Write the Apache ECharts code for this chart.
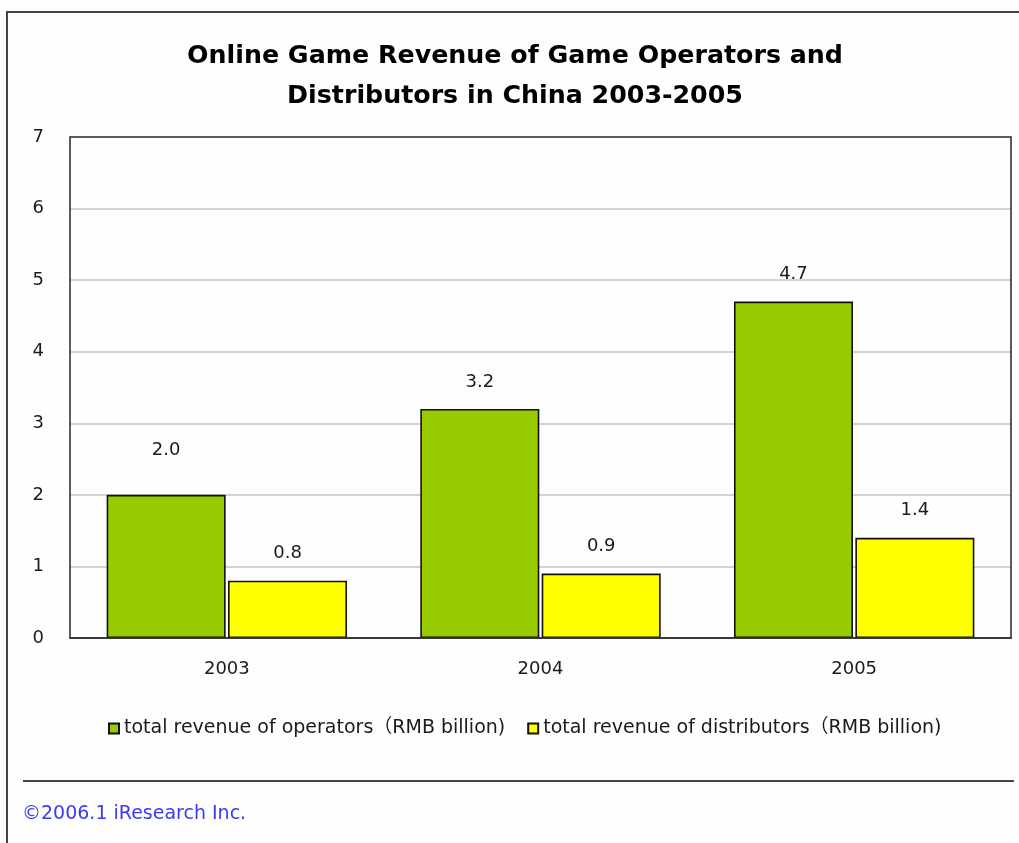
<!DOCTYPE html>
<html>
<head>
<meta charset="utf-8">
<title>Online Game Revenue of Game Operators and Distributors in China 2003-2005</title>
<script src="https://cdn.jsdelivr.net/npm/echarts@6/dist/echarts.min.js"></script>
<style>
  html, body { margin: 0; padding: 0; background: #fdfefd; }
  #chart { width: 1019px; height: 843px; }
</style>
</head>
<body>
<div id="chart"></div>
<script>
// Revenue data, RMB billion
const years = ['2003', '2004', '2005'];
const operatorRevenue = [2.0, 3.2, 4.7];
const distributorRevenue = [0.8, 0.9, 1.4];
const seriesNames = [
  'total revenue of operators（RMB billion)',
  'total revenue of distributors（RMB billion)'
];
const yTicks = [0, 1, 2, 3, 4, 5, 6, 7];

const FONT = '"DejaVu Sans", "Noto Sans CJK SC", sans-serif';
const TEXT = '#1a1a1a';

// plot box in pixels
const GRID = { left: 70, right: 8, top: 137, bottom: 205 };
const W = 1019, H = 843;

const chart = echarts.init(document.getElementById('chart'), null, { renderer: 'canvas' });

const valueLabel = {
  show: true,
  position: 'top',
  distance: 18,
  color: TEXT,
  fontFamily: FONT,
  fontSize: 18,
  formatter: p => Number(p.value).toFixed(1)
};

chart.setOption({
  backgroundColor: '#fdfefd',
  animation: false,
  title: {
    text: 'Online Game Revenue of Game Operators and\nDistributors in China 2003-2005',
    left: 515,
    textAlign: 'center',
    top: 36,
    padding: 0,
    textStyle: {
      fontFamily: FONT,
      fontWeight: 'bold',
      fontSize: 25.3,
      lineHeight: 40,
      color: '#000'
    }
  },
  legend: {
    data: seriesNames,
    left: 103,
    top: 714,
    itemWidth: 10,
    itemHeight: 10,
    itemGap: 22,
    icon: 'rect',
    textStyle: { fontFamily: FONT, fontSize: 19, color: TEXT }
  },
  grid: {
    left: GRID.left,
    right: GRID.right,
    top: GRID.top,
    bottom: GRID.bottom
  },
  xAxis: {
    type: 'category',
    data: years,
    axisLine: { show: true, lineStyle: { color: '#222', width: 1.5 } },
    axisTick: { show: false },
    axisLabel: { color: TEXT, fontFamily: FONT, fontSize: 18, margin: 22 }
  },
  yAxis: {
    type: 'value',
    min: yTicks[0],
    max: yTicks[yTicks.length - 1],
    interval: 1,
    axisLine: { show: false },
    axisTick: { show: false },
    axisLabel: { color: TEXT, fontFamily: FONT, fontSize: 18, margin: 26 },
    splitLine: { lineStyle: { color: '#c4c4c4', width: 1.5 } }
  },
  series: [
    {
      name: seriesNames[0],
      type: 'bar',
      barWidth: 119,
      barGap: '2%',
      itemStyle: { color: '#99cc00', borderColor: '#111', borderWidth: 1.6 },
      label: valueLabel,
      // the first label sits higher above its bar
      data: operatorRevenue.map((v, i) => i === 0 ? { value: v, label: { distance: 36 } } : v)
    },
    {
      name: seriesNames[1],
      type: 'bar',
      barWidth: 119,
      itemStyle: { color: '#ffff00', borderColor: '#111', borderWidth: 1.6 },
      label: valueLabel,
      data: distributorRevenue
    }
  ],
  graphic: [
    // dark frame round the plot area, above the grid lines
    {
      type: 'rect',
      silent: true,
      z: 100,
      shape: {
        x: GRID.left,
        y: GRID.top,
        width: W - GRID.left - GRID.right,
        height: H - GRID.top - GRID.bottom
      },
      style: { stroke: '#333', lineWidth: 1.6, fill: null }
    },
    // outer frame (top and left edges)
    {
      type: 'polyline',
      silent: true,
      shape: { points: [[7, 843], [7, 12], [1019, 12]] },
      style: { stroke: '#444', lineWidth: 2, fill: null }
    },
    // rule above the source note
    {
      type: 'line',
      silent: true,
      shape: { x1: 23, y1: 781, x2: 1014, y2: 781 },
      style: { stroke: '#444', lineWidth: 2 }
    },
    {
      type: 'text',
      silent: true,
      left: 22,
      top: 805,
      style: {
        text: '©2006.1 iResearch Inc.',
        fill: '#3a3af5',
        font: '19px ' + FONT
      }
    }
  ]
});
</script>
</body>
</html>
